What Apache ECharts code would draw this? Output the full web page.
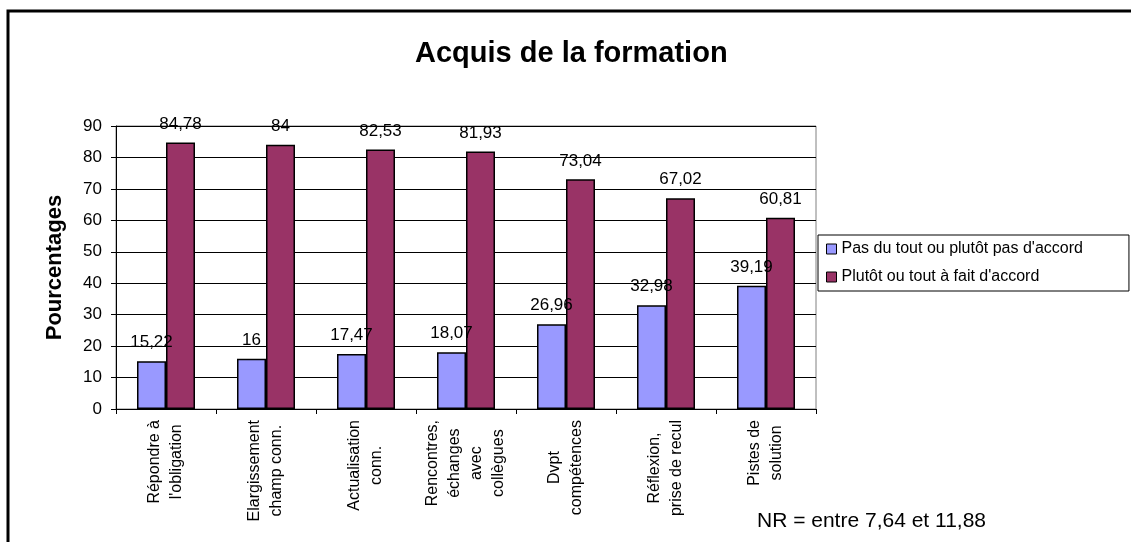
<!DOCTYPE html>
<html>
<head>
<meta charset="utf-8">
<script src="https://cdn.jsdelivr.net/npm/echarts@6/dist/echarts.min.js"></script>
<style>
  html, body { margin: 0; padding: 0; background: #fff; }
  #chart { width: 1131px; height: 542px; }
</style>
</head>
<body>
<div id="chart"></div>
<script>
// catégories (axe des x)
var categories = [
  'Répondre à\nl\'obligation',
  'Elargissement\nchamp conn.',
  'Actualisation\nconn.',
  'Rencontres,\néchanges\navec\ncollègues',
  'Dvpt\ncompétences',
  'Réflexion,\nprise de recul',
  'Pistes de\nsolution'
]
var pasAccord = [15.22, 16, 17.47, 18.07, 26.96, 32.98, 39.19]
var accord = [84.78, 84, 82.53, 81.93, 73.04, 67.02, 60.81]
var seriesNames = ['Pas du tout ou plutôt pas d\'accord', 'Plutôt ou tout à fait d\'accord']
var yTicks = { min: 0, max: 90, step: 10 }

var chart = echarts.init(document.getElementById('chart'))

var labelOption = {
  show: true,
  position: 'top',
  distance: 10,
  color: '#000',
  fontFamily: 'Arial, "Liberation Sans", sans-serif',
  fontSize: 17,
  formatter: function(p) {
    return String(p.value).replace('.', ',')
  }
}

chart.setOption({
  animation: false,
  color: ['#9999FF', '#993366'],
  textStyle: { fontFamily: 'Arial, "Liberation Sans", sans-serif' },
  title: {
    text: 'Acquis de la formation',
    left: 410,
    top: 34,
    textStyle: {
      color: '#000',
      fontWeight: 'bold',
      fontSize: 29
    }
  },
  grid: {
    left: 116,
    top: 126,
    width: 700,
    height: 283,
    show: true,
    borderColor: '#808080',
    borderWidth: 1
  },
  legend: {
    orient: 'vertical',
    left: 818,
    top: 235,
    padding: [6, 46, 6, 8],
    itemGap: 12,
    itemWidth: 10,
    itemHeight: 10,
    icon: 'rect',
    borderColor: '#000',
    borderWidth: 1,
    backgroundColor: '#fff',
    itemStyle: { borderColor: '#000', borderWidth: 1 },
    textStyle: { color: '#000', fontSize: 16 },
    data: seriesNames
  },
  xAxis: [{
    type: 'category',
    data: categories,
    axisLine: { lineStyle: { color: '#000', width: 1 } },
    axisTick: { show: true, length: 5, lineStyle: { color: '#000' } },
    axisLabel: {
      rotate: 90,
      interval: 0,
      margin: 11,
      color: '#000',
      fontSize: 16,
      lineHeight: 22,
      // chaque ligne centrée dans le bloc, comme dans Excel
      formatter: function(v) {
        return v.split('\n').map(function(s) {
          return '{c|' + s + '}'
        }).join('\n')
      },
      rich: {
        c: { align: 'center', fontSize: 16, lineHeight: 22, color: '#000' }
      }
    }
  }],
  yAxis: [{
    type: 'value',
    min: yTicks.min,
    max: yTicks.max,
    interval: yTicks.step,
    name: 'Pourcentages',
    nameLocation: 'middle',
    nameGap: 50,
    nameTextStyle: { color: '#000', fontWeight: 'bold', fontSize: 22 },
    axisLine: { show: true, lineStyle: { color: '#000', width: 1 } },
    axisTick: { show: true, length: 5, lineStyle: { color: '#000' } },
    axisLabel: { color: '#000', fontSize: 17, margin: 14 },
    splitLine: { lineStyle: { color: '#000', width: 1 } }
  }],
  series: [{
    name: seriesNames[0],
    type: 'bar',
    barWidth: 29,
    barGap: '0%',
    itemStyle: { borderColor: '#000', borderWidth: 1.5 },
    label: labelOption,
    data: pasAccord
  },
  {
    name: seriesNames[1],
    type: 'bar',
    barWidth: 29,
    barGap: '0%',
    itemStyle: { borderColor: '#000', borderWidth: 1.5 },
    label: labelOption,
    data: accord
  }
  ],
  graphic: [
    {
      type: 'rect',
      shape: { x: 8, y: 11, width: 1200, height: 600 },
      style: { fill: 'none', stroke: '#000', lineWidth: 3 },
      silent: true
    },
    {
      type: 'text',
      left: 757,
      top: 511,
      style: {
        text: 'NR = entre 7,64 et 11,88',
        fill: '#000',
        fontSize: 21,
        fontFamily: 'Arial, "Liberation Sans", sans-serif'
      }
    }
  ]
})
</script>
</body>
</html>
